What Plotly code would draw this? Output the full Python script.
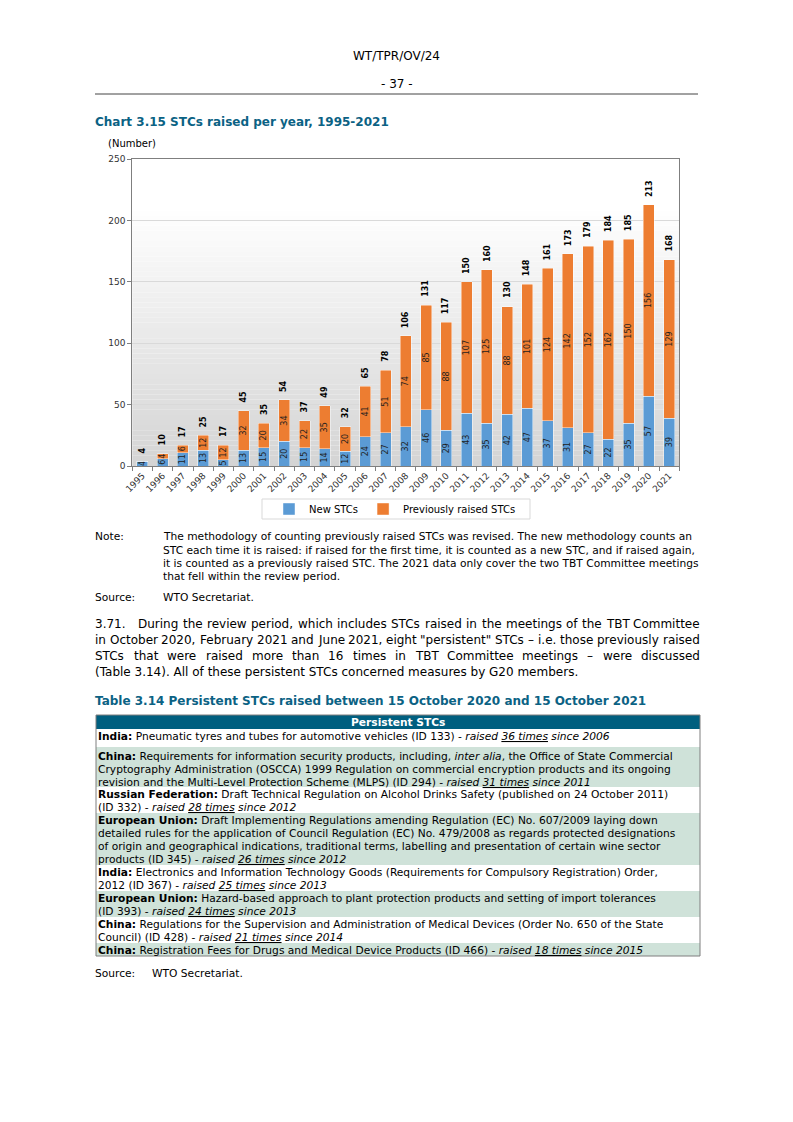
import plotly.graph_objects as go

# The page body has an 8px default margin, so the figure is sized/offset to fit.
PAGE_W, PAGE_H = 793, 1122
OFF = 8
W, H = PAGE_W - 2 * OFF, PAGE_H - 2 * OFF
FONT = "DejaVu Sans"
TEAL = "#0b6284"

# ---------------- data ----------------
years = [str(y) for y in range(1995, 2022)]
new_stcs = [4, 6, 11, 13, 5, 13, 15, 20, 15, 14, 12, 24, 27, 32, 46, 29, 43, 35, 42, 47, 37, 31, 27, 22, 35, 57, 39]
prev_stcs = [0, 4, 6, 12, 12, 32, 20, 34, 22, 35, 20, 41, 51, 74, 85, 88, 107, 125, 88, 101, 124, 142, 152, 162, 150, 156, 129]
totals = [4, 10, 17, 25, 17, 45, 35, 54, 37, 49, 32, 65, 78, 106, 131, 117, 150, 160, 130, 148, 161, 173, 179, 184, 185, 213, 168]
y_tick_vals = [0, 50, 100, 150, 200, 250]
series_names = ["New STCs", "Previously raised STCs"]
series_colors = ["#5b9bd5", "#ed7d31"]

table_rows = [
    ["<b>India:</b> Pneumatic tyres and tubes for automotive vehicles (ID 133) - <i>raised <u>36 times</u> since 2006</i>"],
    ["<b>China:</b> Requirements for information security products, including, <i>inter alia</i>, the Office of State Commercial",
     "Cryptography Administration (OSCCA) 1999 Regulation on commercial encryption products and its ongoing",
     "revision and the Multi-Level Protection Scheme (MLPS) (ID 294) - <i>raised <u>31 times</u> since 2011</i>"],
    ["<b>Russian Federation:</b> Draft Technical Regulation on Alcohol Drinks Safety (published on 24 October 2011)",
     "(ID 332) - <i>raised <u>28 times</u> since 2012</i>"],
    ["<b>European Union:</b> Draft Implementing Regulations amending Regulation (EC) No. 607/2009 laying down",
     "detailed rules for the application of Council Regulation (EC) No. 479/2008 as regards protected designations",
     "of origin and geographical indications, traditional terms, labelling and presentation of certain wine sector",
     "products (ID 345) - <i>raised <u>26 times</u> since 2012</i>"],
    ["<b>India:</b> Electronics and Information Technology Goods (Requirements for Compulsory Registration) Order,",
     "2012 (ID 367) - <i>raised <u>25 times</u> since 2013</i>"],
    ["<b>European Union:</b> Hazard-based approach to plant protection products and setting of import tolerances",
     "(ID 393) - <i>raised <u>24 times</u> since 2013</i>"],
    ["<b>China:</b> Regulations for the Supervision and Administration of Medical Devices (Order No. 650 of the State",
     "Council) (ID 428) - <i>raised <u>21 times</u> since 2014</i>"],
    ["<b>China:</b> Registration Fees for Drugs and Medical Device Products (ID 466) - <i>raised <u>18 times</u> since 2015</i>"],
]

note_lines = [
    "The methodology of counting previously raised STCs was revised. The new methodology counts an",
    "STC each time it is raised: if raised for the first time, it is counted as a new STC, and if raised again,",
    "it is counted as a previously raised STC. The 2021 data only cover the two TBT Committee meetings",
    "that fell within the review period.",
]
para_lines = [
    "3.71. During the review period, which includes STCs raised in the meetings of the TBT Committee",
    "in October 2020, February 2021 and June 2021, eight \"persistent\" STCs \u2013 i.e. those previously raised",
    "STCs that were raised more than 16 times in TBT Committee meetings \u2013 were discussed",
    "(Table 3.14). All of these persistent STCs concerned measures by G20 members.",
]


def px(x):
    return (x - OFF) / W


def py(y):
    return 1 - (y - OFF) / H


# ---------------- chart ----------------
fig = go.Figure()
for vals, name, col in zip([new_stcs, prev_stcs], series_names, series_colors):
    fig.add_trace(go.Bar(
        x=years, y=vals, name=name,
        marker=dict(color=col, line=dict(color="rgba(255,255,255,0.55)", width=0.8)),
        text=[str(v) if v else "" for v in vals],
        textposition="inside", insidetextanchor="middle", textangle=-90,
        insidetextfont=dict(family=FONT, size=8, color="#1f1f1f"),
        hoverinfo="skip",
    ))

annotations = []
shapes = []

for i, tot in enumerate(totals):
    annotations.append(dict(
        x=i, y=tot, xref="x", yref="y", text=f"<b>{tot}</b>", showarrow=False,
        textangle=-90, yanchor="bottom", xanchor="center", yshift=8,
        font=dict(family=FONT, size=8, color="#000"), borderpad=0, borderwidth=0,
    ))

# gradient background of plot area
N = 60
for i in range(N):
    t = (i + 0.5) / N
    g = int(round(0xd4 + (0xff - 0xd4) * min(1.0, t / 0.85)))
    shapes.append(dict(type="rect", xref="x domain", yref="y domain",
                       x0=0, x1=1, y0=i / N, y1=(i + 1) / N,
                       fillcolor=f"rgb({g},{g},{g})", line=dict(width=0), layer="below"))

X0, X1, Y0, Y1 = 132.3, 679.3, 159.3, 466.0

fig.update_xaxes(domain=[px(X0), px(X1)], type="category", tickangle=-45,
                 range=[-0.5, len(years) - 0.5],
                 tickson="boundaries", ticks="outside", ticklen=4, tickcolor="#7f7f7f",
                 showline=True, linecolor="#7f7f7f", linewidth=1, mirror=True,
                 tickfont=dict(family=FONT, size=9, color="#333"), showgrid=False,
                 automargin=False, fixedrange=True)
fig.update_yaxes(domain=[py(Y1), py(Y0)], range=[0, 250], tickvals=y_tick_vals,
                 ticks="outside", ticklen=4, tickcolor="#7f7f7f",
                 showline=True, linecolor="#7f7f7f", linewidth=1, mirror=True,
                 gridcolor="#d9d9d9", gridwidth=1, zeroline=False,
                 tickfont=dict(family=FONT, size=9, color="#333"),
                 automargin=False, fixedrange=True)

# legend box
shapes.append(dict(type="rect", xref="paper", yref="paper", x0=px(262), x1=px(530),
                   y0=py(519), y1=py(499), line=dict(color="#d9d9d9", width=1),
                   fillcolor="white", layer="below"))

# ---------------- text helpers ----------------
CW = {" ": .318, "!": .401, '"': .46, "(": .39, ")": .39, ",": .318, "-": .361, ".": .318,
      "/": .337, ":": .337, "\u2013": .5,
      "A": .684, "B": .686, "C": .698, "D": .77, "E": .632, "F": .575, "G": .775, "H": .752,
      "I": .295, "J": .295, "K": .656, "L": .557, "M": .863, "N": .748, "O": .787, "P": .603,
      "Q": .787, "R": .695, "S": .635, "T": .611, "U": .732, "V": .684, "W": .989, "X": .685,
      "Y": .611, "Z": .685,
      "a": .613, "b": .635, "c": .55, "d": .635, "e": .615, "f": .352, "g": .635, "h": .634,
      "i": .278, "j": .278, "k": .579, "l": .278, "m": .974, "n": .634, "o": .612, "p": .635,
      "q": .635, "r": .411, "s": .521, "t": .392, "u": .634, "v": .592, "w": .818, "x": .592,
      "y": .592, "z": .525}
for d in "0123456789":
    CW[d] = .636


def em_width(s):
    return sum(CW.get(ch, 0.6) for ch in s)


def txt(x, y, s, size, color="#000", xanchor="left"):
    annotations.append(dict(x=px(x), y=py(y), xref="paper", yref="paper", text=s,
                            showarrow=False, xanchor=xanchor, yanchor="middle",
                            font=dict(family=FONT, size=size, color=color),
                            borderpad=0, borderwidth=0))


def justify(line, y, x0, x1, size, extra_first=0.0):
    words = line.split()
    widths = [em_width(w) * size for w in words]
    widths[0] += extra_first
    gap = (x1 - x0 - sum(widths)) / (len(words) - 1)
    x = x0
    for w, wd in zip(words, widths):
        txt(x, y, w, size)
        x += wd + gap


# page header
txt(396.5, 56, "WT/TPR/OV/24", 12, xanchor="center")
txt(396.5, 84, "- 37 -", 12, xanchor="center")
shapes.append(dict(type="line", xref="paper", yref="paper", x0=px(95), x1=px(698),
                   y0=py(94), y1=py(94), line=dict(color="#444", width=1)))

# chart title
txt(95, 122, "<b>Chart 3.15 STCs raised per year, 1995-2021</b>", 12, color=TEAL)
txt(108, 143, "(Number)", 10)

# note
txt(95, 537, "Note:", 10.67)
for k, ln in enumerate(note_lines):
    txt(163, 537 + 13.3 * k, ln, 10.67)
txt(95, 597, "Source:", 10.67)
txt(163, 597, "WTO Secretariat.", 10.67)

# paragraph
for k, ln in enumerate(para_lines):
    yy = 624 + 16 * k
    if k < 3:
        justify(ln, yy, 95, 700, 12, extra_first=(8 if k == 0 else 0))
    else:
        txt(95, yy, ln, 12)

# table title
txt(95, 700.5, "<b>Table 3.14 Persistent STCs raised between 15 October 2020 and 15 October 2021</b>", 12, color=TEAL)

# table
TL, TR = 96, 700
shapes.append(dict(type="rect", xref="paper", yref="paper", x0=px(TL), x1=px(TR),
                   y0=py(729), y1=py(715), fillcolor="#005f7f", line=dict(width=0)))
txt((TL + TR) / 2, 722, "<b>Persistent STCs</b>", 10.67, color="white", xanchor="center")

row_tops = [729, 747, 787, 813, 865, 891, 917, 943]
row_bottom_last = 956
for r, lines in enumerate(table_rows):
    top = row_tops[r]
    bot = row_tops[r + 1] if r + 1 < len(row_tops) else row_bottom_last
    if r % 2 == 1:
        shapes.append(dict(type="rect", xref="paper", yref="paper", x0=px(TL), x1=px(TR),
                           y0=py(bot), y1=py(top), fillcolor="#cfe2d9", line=dict(width=0)))
    first = top + (9 if r == 1 else 7.5)
    for k, ln in enumerate(lines):
        txt(98, first + 13 * k, ln, 10.67)

shapes.append(dict(type="rect", xref="paper", yref="paper", x0=px(TL), x1=px(TR),
                   y0=py(row_bottom_last), y1=py(715), line=dict(color="#7f7f7f", width=1)))

txt(95, 973, "Source:", 10.67)
txt(152, 973, "WTO Secretariat.", 10.67)

fig.update_layout(
    width=W, height=H, margin=dict(l=0, r=0, t=0, b=0),
    paper_bgcolor="white", plot_bgcolor="rgba(0,0,0,0)",
    barmode="stack", bargap=0.457,
    uniformtext=dict(minsize=8, mode="show"),
    font=dict(family=FONT, size=10, color="#000"),
    showlegend=True,
    legend=dict(orientation="h", x=px(269), y=py(509), xanchor="left", yanchor="middle",
                bgcolor="rgba(0,0,0,0)", borderwidth=0,
                font=dict(family=FONT, size=10, color="#000"),
                traceorder="normal"),
    annotations=annotations, shapes=shapes,
    hovermode=False,
)

fig.write_html("out.html")
